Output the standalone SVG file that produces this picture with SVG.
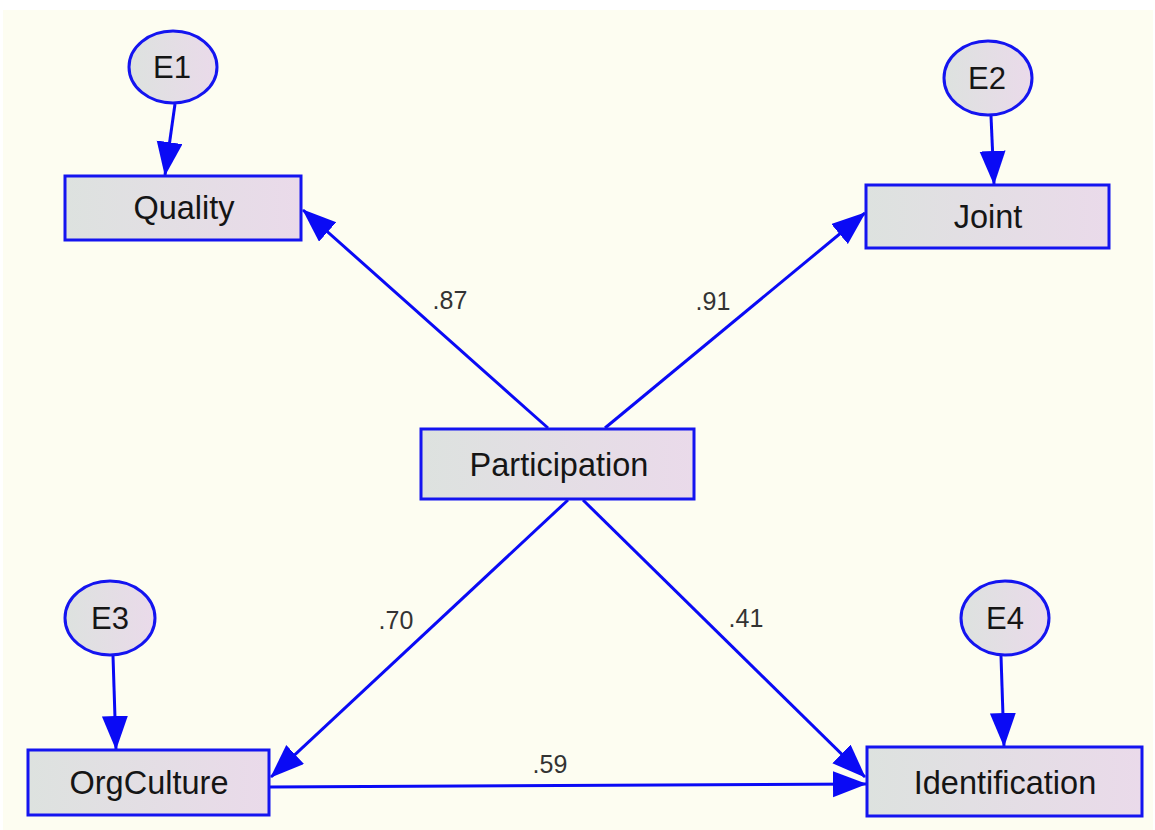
<svg xmlns="http://www.w3.org/2000/svg" width="1155" height="830" viewBox="0 0 1155 830">
<defs>
<linearGradient id="g" x1="0" y1="0" x2="1" y2="0">
<stop offset="0" stop-color="#dde2df"/>
<stop offset="1" stop-color="#eadaea"/>
</linearGradient>
<marker id="ah" markerUnits="userSpaceOnUse" markerWidth="36" markerHeight="28" refX="33" refY="13" orient="auto">
<path d="M0,0 L34,13 L0,26 Z" fill="#0a0af5"/>
</marker>
<style>
.box{fill:url(#g);stroke:#1414f0;stroke-width:3}
.lbl{font-family:"Liberation Sans",Arial,sans-serif;font-size:32.5px;fill:#151515;text-anchor:middle}
.el{font-family:"Liberation Sans",Arial,sans-serif;font-size:31px;fill:#151515;text-anchor:middle}
.coef{font-family:"Liberation Sans",Arial,sans-serif;font-size:25px;fill:#333;text-anchor:middle}
.edge{stroke:#0a0af5;stroke-width:3;fill:none;marker-end:url(#ah)}
</style>
</defs>
<rect width="1155" height="830" fill="#ffffff"/>
<rect x="3" y="10" width="1150" height="820" fill="#fdfdf1"/>
<g id="connectors">
<line class="edge" x1="175" y1="104" x2="165" y2="175"/>
<line class="edge" x1="991" y1="116" x2="994" y2="184"/>
<line class="edge" x1="113" y1="656" x2="116" y2="749"/>
<line class="edge" x1="1001" y1="656" x2="1004" y2="746"/>
<line class="edge" x1="548" y1="428" x2="303" y2="210"/>
<line class="edge" x1="605" y1="428" x2="865" y2="213"/>
<line class="edge" x1="568" y1="500" x2="271" y2="777"/>
<line class="edge" x1="583" y1="500" x2="865" y2="777"/>
<line class="edge" x1="270" y1="787" x2="866" y2="784"/>
<text class="coef" x="450" y="309">.87</text>
<text class="coef" x="713" y="310">.91</text>
<text class="coef" x="396" y="629">.70</text>
<text class="coef" x="746" y="627">.41</text>
<text class="coef" x="550" y="773">.59</text>
</g>
<g id="E1"><ellipse class="box" cx="173" cy="67" rx="44" ry="36"/><text class="el" x="172" y="78">E1</text></g>
<g id="E2"><ellipse class="box" cx="988" cy="78" rx="44" ry="37"/><text class="el" x="987" y="89">E2</text></g>
<g id="E3"><ellipse class="box" cx="110" cy="618" rx="45" ry="37"/><text class="el" x="110" y="629">E3</text></g>
<g id="E4"><ellipse class="box" cx="1005" cy="618" rx="44" ry="37"/><text class="el" x="1005" y="629">E4</text></g>
<g id="Quality"><rect class="box" x="65" y="176" width="236" height="64"/><text class="lbl" x="184" y="219">Quality</text></g>
<g id="Joint"><rect class="box" x="866" y="185" width="243" height="63"/><text class="lbl" x="988" y="228">Joint</text></g>
<g id="Participation"><rect class="box" x="421" y="429" width="273" height="70"/><text class="lbl" x="559" y="476">Participation</text></g>
<g id="OrgCulture"><rect class="box" x="28" y="750" width="241" height="65"/><text class="lbl" x="149" y="794">OrgCulture</text></g>
<g id="Identification"><rect class="box" x="867" y="747" width="275" height="69"/><text class="lbl" x="1005" y="794">Identification</text></g>
</svg>
